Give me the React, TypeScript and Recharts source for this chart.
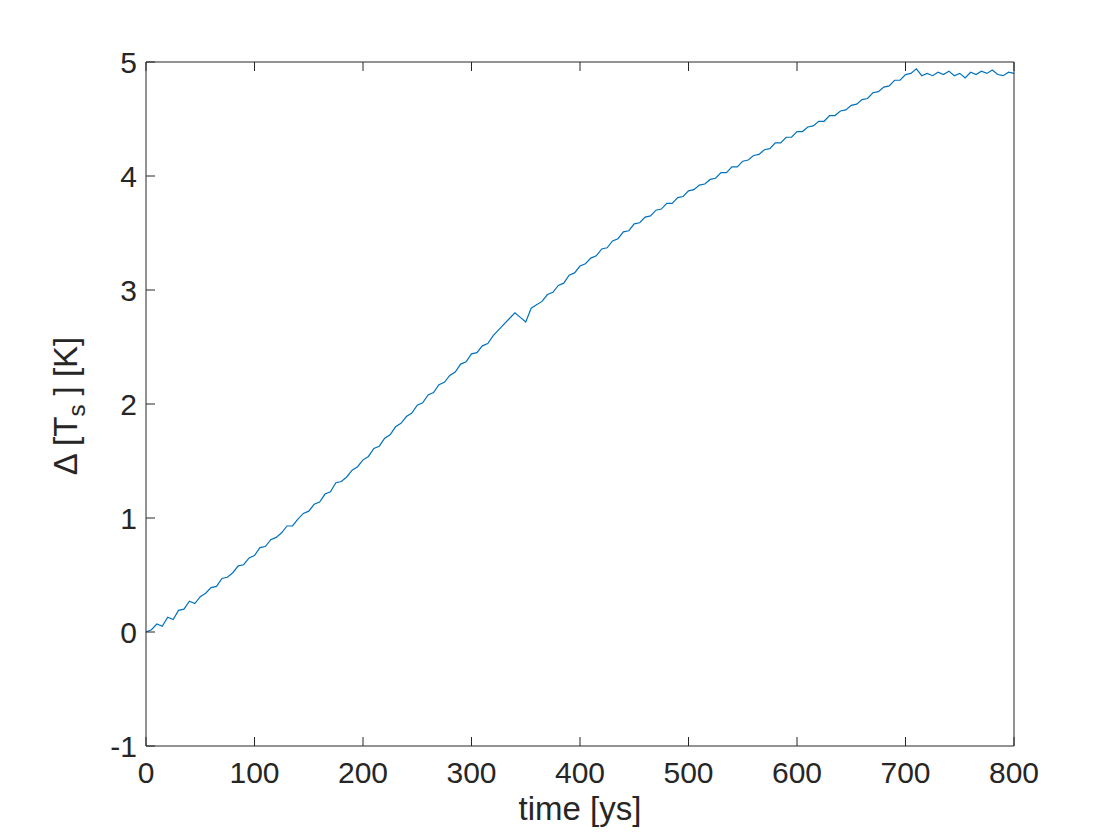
import React from 'react';
import { LineChart, Line, XAxis, YAxis } from 'recharts';

const timeYears: number[] = [
  0, 5, 10, 15, 20, 25, 30, 35, 40, 45, 50, 55, 60, 65, 70, 75, 80, 85, 90, 95,
  100, 105, 110, 115, 120, 125, 130, 135, 140, 145, 150, 155, 160, 165, 170, 175, 180, 185, 190, 195,
  200, 205, 210, 215, 220, 225, 230, 235, 240, 245, 250, 255, 260, 265, 270, 275, 280, 285, 290, 295,
  300, 305, 310, 315, 320, 325, 330, 335, 340, 345, 350, 355, 360, 365, 370, 375, 380, 385, 390, 395,
  400, 405, 410, 415, 420, 425, 430, 435, 440, 445, 450, 455, 460, 465, 470, 475, 480, 485, 490, 495,
  500, 505, 510, 515, 520, 525, 530, 535, 540, 545, 550, 555, 560, 565, 570, 575, 580, 585, 590, 595,
  600, 605, 610, 615, 620, 625, 630, 635, 640, 645, 650, 655, 660, 665, 670, 675, 680, 685, 690, 695,
  700, 705, 710, 715, 720, 725, 730, 735, 740, 745, 750, 755, 760, 765, 770, 775, 780, 785, 790, 795,
  800,
];

const deltaTs: number[] = [
  0.00, 0.02, 0.07, 0.05, 0.13, 0.11, 0.19, 0.20, 0.27, 0.25, 0.31, 0.34, 0.39, 0.40, 0.47, 0.48, 0.52, 0.58, 0.59, 0.65,
  0.67, 0.74, 0.75, 0.81, 0.83, 0.87, 0.93, 0.93, 0.99, 1.04, 1.06, 1.12, 1.14, 1.21, 1.23, 1.31, 1.32, 1.36, 1.42, 1.45,
  1.51, 1.54, 1.61, 1.63, 1.70, 1.73, 1.80, 1.83, 1.89, 1.92, 1.99, 2.01, 2.08, 2.10, 2.17, 2.19, 2.25, 2.28, 2.35, 2.37,
  2.44, 2.45, 2.51, 2.53, 2.60, 2.65, 2.70, 2.75, 2.80, 2.76, 2.72, 2.84, 2.87, 2.90, 2.96, 2.98, 3.04, 3.06, 3.13, 3.15,
  3.21, 3.23, 3.28, 3.30, 3.36, 3.37, 3.43, 3.45, 3.51, 3.52, 3.58, 3.59, 3.64, 3.65, 3.70, 3.71, 3.76, 3.76, 3.81, 3.82,
  3.87, 3.88, 3.92, 3.93, 3.97, 3.98, 4.03, 4.03, 4.08, 4.08, 4.13, 4.14, 4.18, 4.19, 4.23, 4.24, 4.29, 4.29, 4.34, 4.34,
  4.39, 4.39, 4.43, 4.44, 4.48, 4.48, 4.53, 4.53, 4.57, 4.58, 4.62, 4.63, 4.67, 4.68, 4.73, 4.74, 4.78, 4.79, 4.84, 4.84,
  4.89, 4.90, 4.94, 4.88, 4.90, 4.88, 4.91, 4.89, 4.92, 4.88, 4.90, 4.86, 4.91, 4.89, 4.92, 4.90, 4.93, 4.89, 4.88, 4.91,
  4.90,
];

const xTicks: number[] = [0, 100, 200, 300, 400, 500, 600, 700, 800];
const yTicks: number[] = [-1, 0, 1, 2, 3, 4, 5];

const data = timeYears.map((t, i) => ({ t, v: deltaTs[i] }));

const INK = '#262626';
const FONT = '"Liberation Sans", Arial, Helvetica, sans-serif';
const TICK_FS = 30;
const LABEL_FS = 33;
const TICK_LEN = 9;

const BottomTick = (props: any) => {
  const { x, y, payload } = props;
  return (
    <g>
      <line x1={x} x2={x} y1={y} y2={y - TICK_LEN} stroke={INK} strokeWidth={1} />
      <text x={x} y={y + 37} textAnchor="middle" fill={INK} fontSize={TICK_FS} fontFamily={FONT}>
        {payload.value}
      </text>
    </g>
  );
};

const TopTick = (props: any) => {
  const { x, y } = props;
  return <line x1={x} x2={x} y1={y} y2={y + TICK_LEN} stroke={INK} strokeWidth={1} />;
};

const LeftTick = (props: any) => {
  const { x, y, payload } = props;
  return (
    <g>
      <line x1={x} x2={x + TICK_LEN} y1={y} y2={y} stroke={INK} strokeWidth={1} />
      <text x={x - 9} y={y + 11} textAnchor="end" fill={INK} fontSize={TICK_FS} fontFamily={FONT}>
        {payload.value}
      </text>
    </g>
  );
};

const RightTick = (props: any) => {
  const { x, y } = props;
  return <line x1={x} x2={x - TICK_LEN} y1={y} y2={y} stroke={INK} strokeWidth={1} />;
};

const YLabel = (props: any) => {
  const vb = props.viewBox || { x: 0, y: 62, width: 146, height: 684 };
  const cy = vb.y + vb.height / 2 + 2;
  const cx = 77;
  return (
    <text
      x={cx}
      y={cy}
      transform={`rotate(-90, ${cx}, ${cy})`}
      textAnchor="middle"
      fill={INK}
      fontSize={LABEL_FS}
      fontFamily={FONT}
    >
      {'\u0394 [T'}
      <tspan dy={8} fontSize={24}>s</tspan>
      <tspan dy={-8}>{' ] [K]'}</tspan>
    </text>
  );
};

const XLabel = (props: any) => {
  const vb = props.viewBox || { x: 146, y: 746, width: 868, height: 94 };
  const cx = vb.x + vb.width / 2;
  return (
    <text x={cx} y={820} textAnchor="middle" fill={INK} fontSize={LABEL_FS} fontFamily={FONT}>
      time [ys]
    </text>
  );
};

export default function App() {
  return (
    <div style={{ position: 'absolute', left: 0, top: 0, width: 1120, height: 840, background: '#ffffff' }}>
      <LineChart
        width={1120}
        height={840}
        data={data}
        margin={{ top: 61, right: 105, bottom: 0, left: 0 }}
      >
        <XAxis
          xAxisId="bottom"
          dataKey="t"
          type="number"
          domain={[0, 800]}
          ticks={xTicks}
          orientation="bottom"
          height={94}
          tickSize={0}
          tickMargin={0}
          tickLine={false}
          axisLine={{ stroke: INK, strokeWidth: 1 }}
          tick={<BottomTick />}
          interval={0}
          label={<XLabel />}
        />
        <XAxis
          xAxisId="top"
          dataKey="t"
          type="number"
          domain={[0, 800]}
          ticks={xTicks}
          orientation="top"
          height={1}
          tickSize={0}
          tickMargin={0}
          tickLine={false}
          axisLine={{ stroke: INK, strokeWidth: 1 }}
          tick={<TopTick />}
          interval={0}
        />
        <YAxis
          yAxisId="left"
          type="number"
          domain={[-1, 5]}
          ticks={yTicks}
          orientation="left"
          width={146}
          tickSize={0}
          tickMargin={0}
          tickLine={false}
          axisLine={{ stroke: INK, strokeWidth: 1 }}
          tick={<LeftTick />}
          interval={0}
          label={<YLabel />}
        />
        <YAxis
          yAxisId="right"
          type="number"
          domain={[-1, 5]}
          ticks={yTicks}
          orientation="right"
          width={1}
          tickSize={0}
          tickMargin={0}
          tickLine={false}
          axisLine={{ stroke: INK, strokeWidth: 1 }}
          tick={<RightTick />}
          interval={0}
        />
        <Line
          xAxisId="bottom"
          yAxisId="left"
          dataKey="v"
          type="linear"
          stroke="#0072BD"
          strokeWidth={1.2}
          dot={false}
          isAnimationActive={false}
        />
      </LineChart>
    </div>
  );
}
